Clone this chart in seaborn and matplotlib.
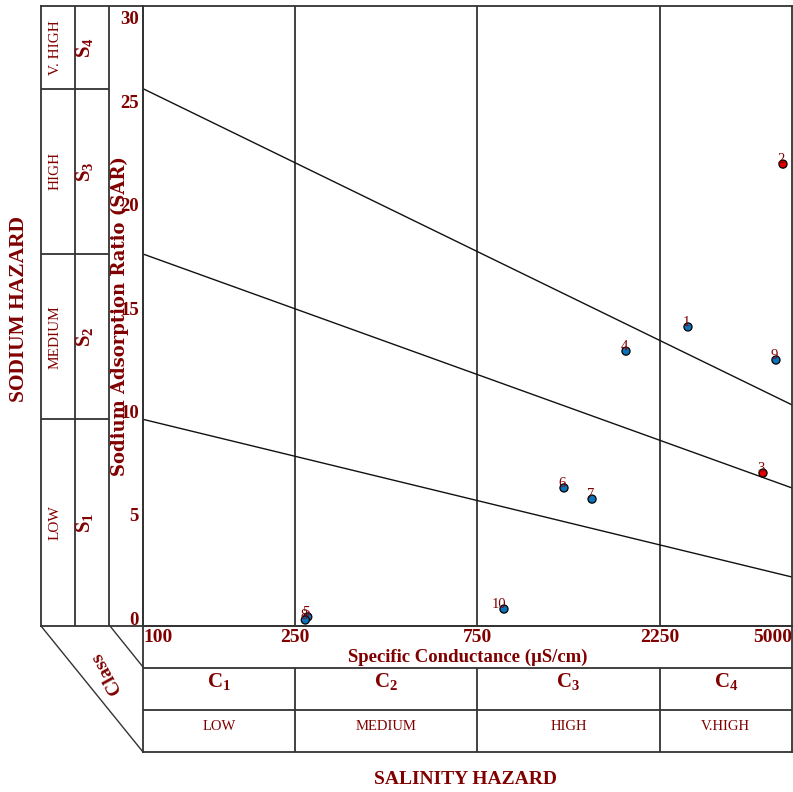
import matplotlib
matplotlib.use("Agg")
import matplotlib.pyplot as plt
import numpy as np
import pandas as pd
import seaborn as sns
from matplotlib.lines import Line2D
from matplotlib.ticker import NullLocator
from matplotlib.transforms import ScaledTranslation

# ---- data -------------------------------------------------------------
sample_ids = ["1", "2", "3", "4", "5", "6", "7", "8", "9", "10"]
ec_values = [2671, 4736, 4198, 1838, 270, 1265, 1498, 266, 4539, 881]      # µS/cm
sar_values = [14.47, 22.35, 7.40, 13.30, 0.44, 6.68, 6.14, 0.29, 12.87, 0.82]
sample_group = ["normal", "flagged", "flagged", "normal", "normal",
                "normal", "normal", "normal", "normal", "normal"]

# sodium-hazard boundary lines (SAR at EC = 100 and EC = 5000)
boundary_ec = [100, 5000]
s1_s2_sar = [10.0, 2.37]
s2_s3_sar = [18.0, 6.68]
s3_s4_sar = [26.0, 10.70]

# class limits
ec_class_bounds = [100, 250, 750, 2250, 5000]
sar_class_bounds = [0, 10, 18, 26, 30]
c_labels = ["1", "2", "3", "4"]
s_labels = ["1", "2", "3", "4"]
salinity_names = ["LOW", "MEDIUM", "HIGH", "V.HIGH"]
sodium_names = ["LOW", "MEDIUM", "HIGH", "V. HIGH"]

ec_ticks = [100, 250, 750, 2250, 5000]
ec_tick_labels = ["100", "250", "750", "2250", "5000"]
sar_ticks = [0, 5, 10, 15, 20, 25, 30]
sar_tick_labels = ["0", "5", "10", "15", "20", "25", "30"]

# ---- style ------------------------------------------------------------
sns.set_style("white")
plt.rcParams["font.family"] = ["Liberation Serif", "DejaVu Serif"]
plt.rcParams["mathtext.fontset"] = "custom"
plt.rcParams["mathtext.rm"] = "Liberation Serif"
plt.rcParams["mathtext.bf"] = "Liberation Serif:bold"
plt.rcParams["mathtext.it"] = "Liberation Serif:italic"

TXT = "#800000"
FRAME = "#333333"
LW = 1.3

W, H = 793, 792
fig = plt.figure(figsize=(W / 100, H / 100), dpi=100)


def box(l, t, r, b):
    return [l / W, 1 - b / H, (r - l) / W, (b - t) / H]


ax = fig.add_axes(box(143, 6, 792, 626))
ax_left = fig.add_axes(box(41, 6, 143, 626), sharey=ax)
ax_bot = fig.add_axes(box(143, 626, 792, 752), sharex=ax)

# ---- main diagram -----------------------------------------------------
ax.set_xscale("log")
ax.set_xlim(ec_class_bounds[0], ec_class_bounds[-1])
ax.set_ylim(sar_class_bounds[0], sar_class_bounds[-1])

for b in ec_class_bounds[1:-1]:
    ax.axvline(b, color=FRAME, lw=LW, zorder=1)

lines = pd.DataFrame({
    "ec": boundary_ec * 3,
    "sar": s1_s2_sar + s2_s3_sar + s3_s4_sar,
    "boundary": ["S1/S2"] * 2 + ["S2/S3"] * 2 + ["S3/S4"] * 2,
})
sns.lineplot(data=lines, x="ec", y="sar", units="boundary", estimator=None,
             color="#111111", lw=1.0, ax=ax, legend=False, zorder=2)

pts = pd.DataFrame({"id": sample_ids, "ec": ec_values, "sar": sar_values,
                    "group": sample_group})
sns.scatterplot(data=pts, x="ec", y="sar", hue="group",
                palette={"normal": "#0b72b9", "flagged": "#e00000"},
                s=34, edgecolor="black", linewidth=0.9, ax=ax,
                legend=False, zorder=4)
for _, r in pts.iterrows():
    ax.annotate(r["id"], (r["ec"], r["sar"]), xytext=(1.5, 3),
                textcoords="offset points", ha="right", va="center",
                fontsize=10.5, color=TXT, zorder=5)

ax.set_xticks(ec_ticks)
ax.set_xticklabels(ec_tick_labels)
ax.xaxis.set_minor_locator(NullLocator())
ax.set_yticks(sar_ticks)
ax.set_yticklabels(sar_tick_labels)
ax.tick_params(axis="x", length=0, labelsize=14, colors=TXT, pad=2)
ax.tick_params(axis="y", length=0, labelsize=13.5, colors=TXT, pad=3)
for t in ax.get_xticklabels() + ax.get_yticklabels():
    t.set_fontweight("bold")
xl = ax.get_xticklabels()
xl[0].set_ha("left")
xl[-1].set_ha("right")
yl = ax.get_yticklabels()
for i, t in enumerate(yl):
    t.set_va("center")
    dy = -9.5 if i == len(yl) - 1 else 4.3
    t.set_transform(t.get_transform() + ScaledTranslation(0, dy / 72, fig.dpi_scale_trans))
ax.set_xlabel("")
ax.set_ylabel("")
for s in ax.spines.values():
    s.set_color(FRAME)
    s.set_linewidth(LW)

# ---- left (sodium hazard) panel --------------------------------------
ax_left.set_facecolor("none")
ax_left.set_xlim(0, 3)
ax_left.tick_params(left=False, labelleft=False, bottom=False, labelbottom=False)
for s in ax_left.spines.values():
    s.set_color(FRAME)
    s.set_linewidth(LW)
ax_left.axvline(1, color=FRAME, lw=LW)
ax_left.axvline(2, color=FRAME, lw=LW)
ax_left.hlines([s1_s2_sar[0], s2_s3_sar[0], s3_s4_sar[0]], 0, 2, color=FRAME, lw=LW)
for i in range(4):
    mid = (sar_class_bounds[i] + sar_class_bounds[i + 1]) / 2
    ax_left.text(0.42, mid, sodium_names[i], rotation=90, ha="center",
                 va="center", fontsize=11, color=TXT)
    ax_left.text(1.28, mid, r"$\mathbf{S_%s}$" % s_labels[i], rotation=90,
                 ha="center", va="center", fontsize=15, color=TXT)
ax_left.text(2.32, 15, "Sodium Adsorption Ratio (SAR)", rotation=90,
             ha="center", va="center", fontsize=13, fontweight="bold",
             color=TXT, family=["DejaVu Serif"])

# ---- bottom (salinity hazard) panel ----------------------------------
ax_bot.set_facecolor("none")
ax_bot.set_ylim(3, 0)
ax_bot.tick_params(left=False, labelleft=False, bottom=False, labelbottom=False)
for s in ax_bot.spines.values():
    s.set_color(FRAME)
    s.set_linewidth(LW)
ax_bot.axhline(1, color=FRAME, lw=LW)
ax_bot.axhline(2, color=FRAME, lw=LW)
ax_bot.vlines(ec_class_bounds[1:-1], 1, 3, color=FRAME, lw=LW)
for i in range(4):
    mid = np.sqrt(ec_class_bounds[i] * ec_class_bounds[i + 1])
    ax_bot.text(mid, 1.32, r"$\mathbf{C_%s}$" % c_labels[i], ha="center",
                va="center", fontsize=15, color=TXT)
    ax_bot.text(mid, 2.4, salinity_names[i], ha="center", va="center",
                fontsize=10.5, color=TXT)
ax_bot.text(0.5, 1 - 0.74 / 3, "Specific Conductance (µS/cm)",
            transform=ax_bot.transAxes, ha="center", va="center",
            fontsize=13.5, fontweight="bold", color=TXT)

# ---- corner piece and titles -----------------------------------------
def fig_line(x0, y0, x1, y1):
    fig.add_artist(Line2D([x0 / W, x1 / W], [1 - y0 / H, 1 - y1 / H],
                          transform=fig.transFigure, color=FRAME, lw=1.0))


fig_line(41, 626, 143, 752)
fig_line(110, 626, 143, 667)
fig.text(106 / W, 1 - 673 / H, "Class", rotation=119, ha="center",
         va="center", fontsize=14, fontweight="bold", color=TXT)
fig.text(19 / W, 1 - 309 / H, "SODIUM HAZARD", rotation=90, ha="center",
         va="center", fontsize=15.5, fontweight="bold", color=TXT)
fig.text(465 / W, 1 - 779 / H, "SALINITY HAZARD", ha="center", va="center",
         fontsize=14, fontweight="bold", color=TXT)

fig.savefig("out.png", dpi=100, facecolor="white")
